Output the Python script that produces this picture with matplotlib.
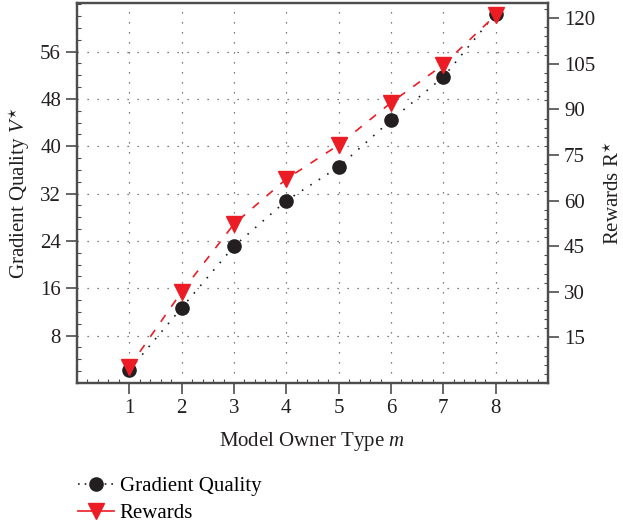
import matplotlib
matplotlib.use("Agg")
import matplotlib.pyplot as plt
from matplotlib.lines import Line2D
from matplotlib.ticker import MultipleLocator
import numpy as np

plt.rcParams['font.family'] = ['Liberation Serif', 'DejaVu Serif']
plt.rcParams['mathtext.fontset'] = 'custom'
plt.rcParams['mathtext.rm'] = 'Liberation Serif'
plt.rcParams['mathtext.it'] = 'Liberation Serif:italic'

# owner types and the two measured series
owner_type = [1, 2, 3, 4, 5, 6, 7, 8]
gradient_quality = [2.2, 12.7, 23.1, 30.8, 36.5, 44.4, 51.7, 62.4]
rewards = [5.3, 30.0, 52.3, 67.1, 78.3, 92.2, 104.7, 121.0]

left_ticks = [8, 16, 24, 32, 40, 48, 56]
right_ticks = [15, 30, 45, 60, 75, 90, 105, 120]

black = '#231f20'
red = '#ec1c24'
spine_col = '#4d4d4d'
fs = 15

fig = plt.figure(figsize=(6.23, 5.23), dpi=100)
ax = fig.add_axes([0.1236, 0.2677, 0.7560, 0.7266])
ax2 = ax.twinx()

ax.plot(owner_type, gradient_quality, color=black, linestyle=(0, (1, 5)), lw=1.2,
        marker='o', markersize=9.5, zorder=3)
ax2.plot(owner_type, rewards, color=red, linestyle=(0, (5, 6)), lw=1.2,
         marker='v', markersize=12, zorder=3)

ax.set_xlim(0, 9)
ax.set_ylim(0, 64.2)
ax2.set_ylim(0, 125)
ax.set_xticks(owner_type)
ax.set_yticks(left_ticks)
ax2.set_yticks(right_ticks)
ax.xaxis.set_minor_locator(MultipleLocator(0.2))
ax.yaxis.set_minor_locator(MultipleLocator(2))
ax2.yaxis.set_minor_locator(MultipleLocator(3))

ax.grid(True, which='major', color='#555555', linestyle=(0, (1, 7)), lw=0.9)

for a in (ax, ax2):
    for s in a.spines.values():
        s.set_color(spine_col)
        s.set_linewidth(1.6)
    a.tick_params(which='major', direction='out', length=8, width=1.2,
                  color=spine_col, labelsize=fs, labelcolor='#231f20')
    a.tick_params(which='minor', direction='in', length=3, width=0.8, color=spine_col)

ax.set_xlabel(r'Model Owner Type $\mathit{m}$', fontsize=fs, color='#231f20', labelpad=9)
ax.set_ylabel(r'Gradient Quality $\mathit{V}^{\star}$', fontsize=fs, color='#231f20', labelpad=6)
ax2.set_ylabel(r'Rewards R$^{\star}$', fontsize=fs, color='#231f20', labelpad=6)

handles = [
    Line2D([], [], color=black, linestyle=(0, (1, 3)), lw=1.2, marker='o', markersize=9.5),
    Line2D([], [], color=red, linestyle='-', lw=1.2, marker='v', markersize=12),
]
fig.legend(handles, ['Gradient Quality', 'Rewards'], loc='upper left',
           bbox_to_anchor=(0.112, 0.105), frameon=False, fontsize=fs,
           handlelength=1.7, handletextpad=0.3, labelspacing=0.35, borderaxespad=0)

fig.savefig('out.png', dpi=100)
